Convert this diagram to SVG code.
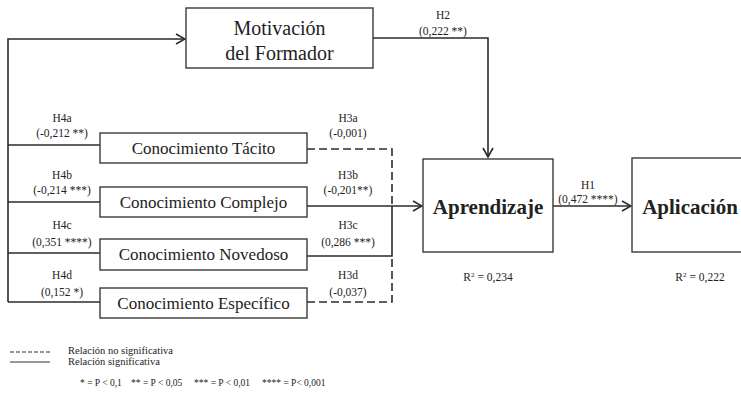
<svg xmlns="http://www.w3.org/2000/svg" width="741" height="403" viewBox="0 0 741 403">
<defs>
<marker id="arr" viewBox="0 0 12 12" refX="11" refY="6" markerWidth="12" markerHeight="12" markerUnits="userSpaceOnUse" orient="auto">
<polyline points="2,1 11,6 2,11" fill="none" stroke="#2b2b2b" stroke-width="1.6"/>
</marker>
</defs>
<style>
.box{fill:#fff;stroke:#3a3a3a;stroke-width:1.4}
.ln{fill:none;stroke:#2b2b2b;stroke-width:1.6}
.dash{fill:none;stroke:#2b2b2b;stroke-width:1.6;stroke-dasharray:8 4}
.t{font-family:"Liberation Serif","Times New Roman",serif;fill:#222}
.big{font-size:20px;text-anchor:middle}
.bold{font-size:21px;font-weight:bold;text-anchor:middle}
.mid{font-size:17px;text-anchor:middle}
.lab{font-size:11.5px;text-anchor:middle}
.leg{font-size:10.5px}
.foot{font-size:9.5px}
</style>
<rect width="741" height="403" fill="#fff"/>
<g id="connectors">
<polyline class="ln" points="8,302 8,39 185,39" marker-end="url(#arr)"/>
<line class="ln" x1="8" y1="145" x2="100" y2="145"/>
<line class="ln" x1="8" y1="202" x2="100" y2="202"/>
<line class="ln" x1="8" y1="253" x2="100" y2="253"/>
<line class="ln" x1="8" y1="302" x2="100" y2="302"/>
<polyline class="ln" points="373,38 488,38 488,157" marker-end="url(#arr)"/>
<polyline class="dash" points="307,149 392,149 392,206"/>
<line class="ln" x1="307" y1="206" x2="422" y2="206" marker-end="url(#arr)"/>
<polyline class="ln" points="307,256 392,256 392,206"/>
<polyline class="dash" points="307,302 392,302 392,256"/>
<line class="ln" x1="553" y1="206" x2="631" y2="206" marker-end="url(#arr)"/>
</g>
<g id="motivacion">
<rect class="box" x="186" y="8" width="187" height="60"/>
<text class="t big" x="279.5" y="35">Motivación</text>
<text class="t big" x="279.5" y="60">del Formador</text>
</g>
<g id="tacito">
<rect class="box" x="100" y="133" width="207" height="30"/>
<text class="t mid" x="203.5" y="154">Conocimiento Tácito</text>
</g>
<g id="complejo">
<rect class="box" x="100" y="187" width="207" height="30"/>
<text class="t mid" x="203.5" y="208">Conocimiento Complejo</text>
</g>
<g id="novedoso">
<rect class="box" x="100" y="239" width="207" height="31"/>
<text class="t mid" x="203.5" y="260">Conocimiento Novedoso</text>
</g>
<g id="especifico">
<rect class="box" x="100" y="288" width="207" height="30"/>
<text class="t mid" x="203.5" y="309">Conocimiento Específico</text>
</g>
<g id="aprendizaje">
<rect class="box" x="423" y="159" width="130" height="93"/>
<text class="t bold" x="488" y="214">Aprendizaje</text>
</g>
<g id="aplicacion">
<rect class="box" x="632" y="158" width="115" height="94"/>
<text class="t bold" x="690" y="214">Aplicación</text>
</g>
<g id="labels">
<text class="t lab" x="443" y="19">H2</text>
<text class="t lab" x="443" y="35">(0,222 **)</text>
<text class="t lab" x="588" y="189">H1</text>
<text class="t lab" x="588" y="203">(0,472 ****)</text>
<text class="t lab" x="62" y="122">H4a</text>
<text class="t lab" x="62" y="137">(-0,212 **)</text>
<text class="t lab" x="62" y="179">H4b</text>
<text class="t lab" x="62" y="194">(-0,214 ***)</text>
<text class="t lab" x="62" y="229">H4c</text>
<text class="t lab" x="62" y="246">(0,351 ****)</text>
<text class="t lab" x="62" y="279">H4d</text>
<text class="t lab" x="62" y="296">(0,152 *)</text>
<text class="t lab" x="348" y="122">H3a</text>
<text class="t lab" x="348" y="137">(-0,001)</text>
<text class="t lab" x="348" y="179">H3b</text>
<text class="t lab" x="348" y="194">(-0,201**)</text>
<text class="t lab" x="348" y="229">H3c</text>
<text class="t lab" x="348" y="246">(0,286 ***)</text>
<text class="t lab" x="348" y="279">H3d</text>
<text class="t lab" x="348" y="296">(-0,037)</text>
<text class="t lab" x="488" y="281">R<tspan font-size="7" dy="-4">2</tspan><tspan dy="4"> = 0,234</tspan></text>
<text class="t lab" x="700" y="281">R<tspan font-size="7" dy="-4">2</tspan><tspan dy="4"> = 0,222</tspan></text>
</g>
<g id="legend">
<line x1="10" y1="352" x2="50" y2="352" stroke="#333" stroke-width="1.2" stroke-dasharray="4 2"/>
<line x1="10" y1="362" x2="50" y2="362" stroke="#333" stroke-width="1.2"/>
<text class="t leg" x="68" y="354">Relación no significativa</text>
<text class="t leg" x="68" y="365">Relación significativa</text>
<text class="t foot" x="80" y="386">* = P &lt; 0,1</text>
<text class="t foot" x="131" y="386">** = P &lt; 0,05</text>
<text class="t foot" x="194" y="386">*** = P &lt; 0,01</text>
<text class="t foot" x="262" y="386">**** = P&lt; 0,001</text>
</g>
</svg>
